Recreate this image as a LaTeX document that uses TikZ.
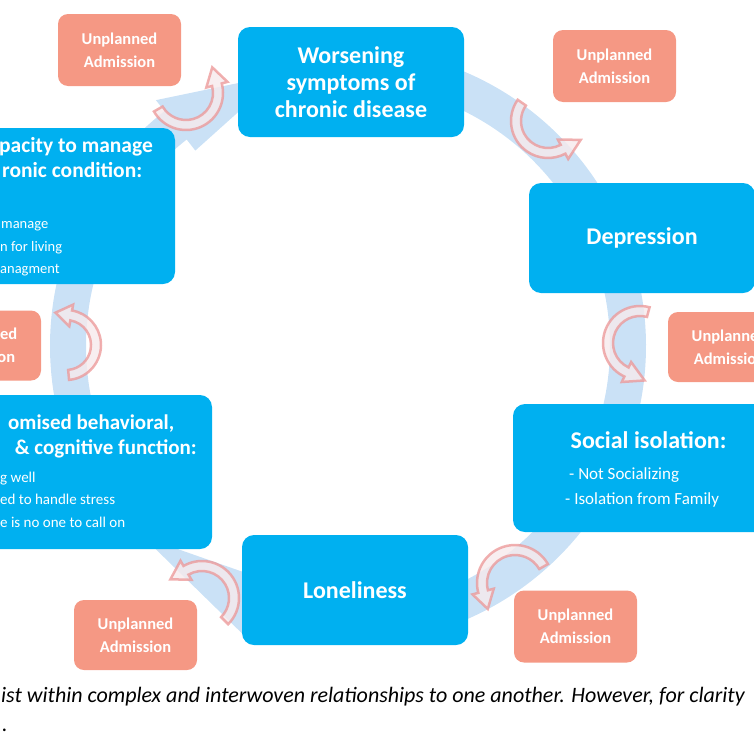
\documentclass[tikz,border=0pt]{standalone}
\usepackage{fontspec}
\setmainfont{Carlito}
\usetikzlibrary{calc}
\definecolor{cycleblue}{RGB}{0,176,240}
\definecolor{ringblue}{RGB}{202,225,246}
\definecolor{admitpink}{RGB}{245,152,132}
\definecolor{arrowrim}{RGB}{236,150,150}
\definecolor{arrowcore}{RGB}{246,234,236}
\tikzset{
  cyclebox/.style={fill=cycleblue, rounded corners=12, minimum width=226, minimum height=110, inner sep=0, text=white, align=center, font=\bfseries\fontsize{24}{27}\selectfont},
  admitbox/.style={fill=admitpink, rounded corners=10, minimum width=123, minimum height=72, inner sep=0, text=white, align=center, font=\bfseries\fontsize{16.5}{23}\selectfont},
  boxtitle/.style={inner sep=0, text=white, font=\bfseries\fontsize{21}{25}\selectfont},
  boxitem/.style={inner sep=0, text=white, font=\fontsize{15}{18}\selectfont},
  ringband/.style={fill=ringblue},
  admitarrow/.style={draw=arrowrim, line width=2.5, fill=arrowcore, draw opacity=0.75, fill opacity=0.8},
  caption/.style={inner sep=0, font=\itshape\fontsize{22}{28}\selectfont}
}
\newcommand{\ringarrow}[3]{%
  \fill[ringband] ($(hub)+({#1}:298)$) arc[start angle=#1, end angle=#2, radius=298]
    -- ($(hub)+({#2}:312)$) -- ($(hub)+({#3}:280)$) -- ($(hub)+({#2}:248)$)
    -- ($(hub)+({#2}:262)$) arc[start angle=#2, end angle=#1, radius=262] -- cycle;}
\newcommand{\admitcurve}[5]{%
  \filldraw[admitarrow] ($#1+({#3}:{#2+5})$) arc[start angle=#3, end angle=#4, radius=#2+5]
    -- ($#1+({#4}:{#2+11})$) -- ($#1+({#4}:#2)+({#4-90}:#5)$) -- ($#1+({#4}:{#2-11})$)
    -- ($#1+({#4}:{#2-5})$) arc[start angle=#4, end angle=#3, radius=#2-5] -- cycle;}

\begin{document}
\begin{tikzpicture}[x=1pt, y=-1pt]
  \useasboundingbox (0,0) rectangle (754,747);
  \clip (0,0) rectangle (754,747);
  \coordinate (hub) at (348,346);
  \ringarrow{200}{232}{256}
  \ringarrow{280}{330}{345}
  \ringarrow{340}{375}{395}
  \ringarrow{30}{70}{90}
  \ringarrow{95}{108}{137}
  \ringarrow{160}{200}{220}

  \node[cyclebox] (worsening) at (351,82) {Worsening\\symptoms of\\chronic disease};
  \node[cyclebox] (depression) at (642,238) {Depression};
  \node[cyclebox, minimum width=271, minimum height=128] (isolation) at (648.5,468) {};
  \node[cyclebox] (loneliness) at (355,590) {Loneliness};
  \node[cyclebox, minimum width=304, minimum height=154] (compromised) at (60,472) {};
  \node[cyclebox, minimum height=156] (capacity) at (62,206) {};

  \node[boxtitle, font=\bfseries\fontsize{24}{27}\selectfont] (isotitle) at (648.5,440) {Social isolation:};
  \node[boxitem, font=\fontsize{17}{20}\selectfont, anchor=base west] (isoitemone) at (569,479) {- Not Socializing};
  \node[boxitem, font=\fontsize{17}{20}\selectfont, anchor=base west] (isoitemtwo) at (565,504) {- Isolation from Family};

  \node[boxtitle, anchor=base west] (comptitleone) at (8,429) {omised behavioral,};
  \node[boxtitle, anchor=base east] (comptitletwo) at (197,454) {\& cognitive function:};
  \node[boxitem, anchor=base west] (compitemone) at (0,482) {g well};
  \node[boxitem, anchor=base west] (compitemtwo) at (0,504) {ed to handle stress};
  \node[boxitem, anchor=base west] (compitemthree) at (0,527) {e is no one to call on};

  \node[boxtitle, font=\bfseries\fontsize{21.5}{25}\selectfont, anchor=base east] (captitleone) at (153,152) {pacity to manage};
  \node[boxtitle, font=\bfseries\fontsize{21.5}{25}\selectfont, anchor=base west] (captitletwo) at (2,177) {ronic condition:};
  \node[boxitem, font=\fontsize{14.5}{18}\selectfont, anchor=base west] (capitemone) at (1,228) {manage};
  \node[boxitem, font=\fontsize{14.5}{18}\selectfont, anchor=base west] (capitemtwo) at (0,251) {n for living};
  \node[boxitem, font=\fontsize{14.5}{18}\selectfont, anchor=base west] (capitemthree) at (0,273) {anagment};

  \node[admitbox] (admitone) at (119.5,50) {Unplanned\\Admission};
  \node[admitbox] (admittwo) at (614.5,66) {Unplanned\\Admission};
  \node[admitbox, minimum height=70] (admitthree) at (729.5,347) {Unplanned\\Admission};
  \node[admitbox] (admitfour) at (575.5,626.5) {Unplanned\\Admission};
  \node[admitbox, minimum height=70] (admitfive) at (135.5,635) {Unplanned\\Admission};
  \node[admitbox, minimum height=70] (admitsix) at (-20.5,345.5) {Unplanned\\Admission};

  \coordinate (curveone) at (186,93);
  \coordinate (curvetwo) at (548,121);
  \coordinate (curvethree) at (640,343);
  \coordinate (curvefour) at (515,583);
  \coordinate (curvefive) at (202,598);
  \coordinate (curvesix) at (66,345);
  \admitcurve{(curveone)}{32}{150}{-15}{18}
  \admitcurve{(curvetwo)}{32}{215}{62}{20}
  \admitcurve{(curvethree)}{32}{285}{115}{20}
  \admitcurve{(curvefour)}{33}{330}{165}{18}
  \admitcurve{(curvefive)}{32}{45}{-120}{18}
  \admitcurve{(curvesix)}{30}{85}{-80}{16}

  \node[caption, anchor=base west] (captionone) at (1,702) {ist within complex and interwoven relationships to one another. However, for clarity};
  \node[caption, anchor=base west] (captiontwo) at (2,731) {.};
\end{tikzpicture}
\end{document}
